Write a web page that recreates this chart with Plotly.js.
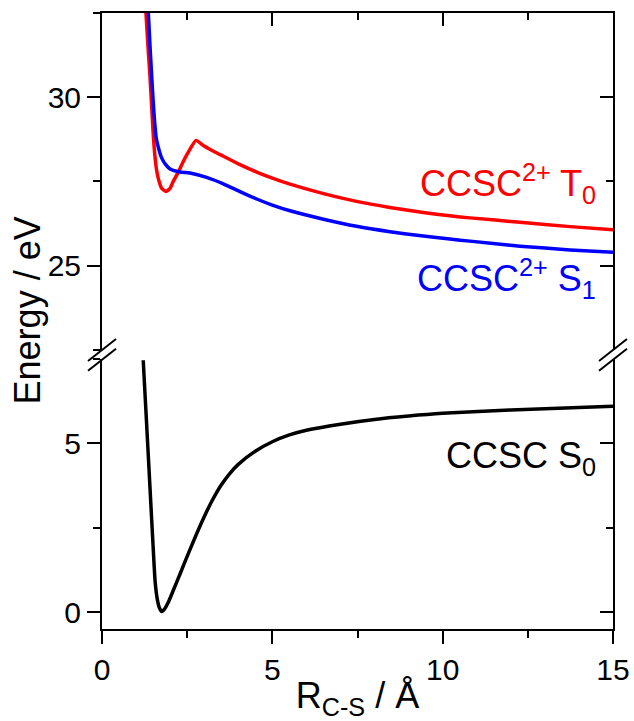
<!DOCTYPE html>
<html>
<head>
<meta charset="utf-8">
<script src="https://cdn.plot.ly/plotly-3.0.1.min.js"></script>
<style>html,body{margin:0;padding:0;background:#fff;}#chart{width:634px;height:721px;}</style>
</head>
<body>
<div id="chart"></div>
<script>
// CCSC S0 (ground state, lower panel)
const rS0 = [1.21, 1.3, 1.4, 1.5, 1.56, 1.62, 1.68, 1.75, 1.82, 1.95, 2.1, 2.3, 2.5, 2.75, 3.0, 3.25, 3.5, 3.75, 4.0, 4.5, 5.0, 5.5, 6.0, 7.0, 8.0, 9.0, 10.0, 12.0, 15.0];
const eS0 = [7.45, 5.75, 3.85, 1.95, 0.9, 0.4, 0.14, 0.02, 0.07, 0.3, 0.66, 1.15, 1.65, 2.25, 2.82, 3.33, 3.76, 4.1, 4.37, 4.76, 5.04, 5.24, 5.38, 5.56, 5.7, 5.8, 5.88, 5.98, 6.09];
// CCSC2+ T0 (upper panel)
const rT0 = [1.29, 1.35, 1.41, 1.51, 1.58, 1.65, 1.75, 1.88, 2.0, 2.09, 2.25, 2.39, 2.55, 2.76, 3.0, 3.3, 3.56, 4.05, 4.54, 5.0, 5.52, 6.5, 7.47, 8.45, 9.43, 10.21, 10.8, 12.27, 13.74, 15.0];
const eT0 = [32.5, 31.5, 30.6, 28.8, 28.0, 27.6, 27.3, 27.2, 27.3, 27.5, 27.8, 28.1, 28.4, 28.72, 28.55, 28.38, 28.25, 28.0, 27.78, 27.6, 27.42, 27.14, 26.91, 26.73, 26.58, 26.48, 26.42, 26.29, 26.16, 26.07];
// CCSC2+ S1 (upper panel)
const rS1 = [1.36, 1.41, 1.46, 1.52, 1.59, 1.67, 1.75, 1.87, 2.0, 2.29, 2.58, 3.07, 3.56, 4.05, 4.54, 5.0, 5.52, 6.5, 7.47, 8.45, 9.43, 10.21, 10.8, 12.27, 13.74, 15.0];
const eS1 = [32.5, 31.5, 30.6, 29.6, 28.8, 28.45, 28.2, 28.0, 27.87, 27.78, 27.75, 27.62, 27.43, 27.2, 26.98, 26.8, 26.63, 26.38, 26.17, 26.01, 25.88, 25.79, 25.73, 25.58, 25.47, 25.4];

const labels = {
  t0: 'CCSC<sup>2+</sup> T<sub>0</sub>',
  s1: 'CCSC<sup>2+</sup> S<sub>1</sub>',
  s0: 'CCSC S<sub>0</sub>',
  xTitle: 'R<sub>C-S</sub> / Å',
  yTitle: 'Energy / eV'
};

const FONT = 'Liberation Sans, Arial, sans-serif';
const traces = [
  {x: rS0, y: eS0, xaxis: 'x', yaxis: 'y', mode: 'lines', line: {color: '#000000', width: 3.5, shape: 'spline', smoothing: 0.6}},
  {x: rT0, y: eT0, xaxis: 'x2', yaxis: 'y2', mode: 'lines', line: {color: '#ff0000', width: 3.5, shape: 'spline', smoothing: 0.5}},
  {x: rS1, y: eS1, xaxis: 'x2', yaxis: 'y2', mode: 'lines', line: {color: '#0000ff', width: 3.5, shape: 'spline', smoothing: 0.6}},
  // empty traces so the right-hand (inside-tick) frame axes are drawn
  {x: [], y: [], xaxis: 'x', yaxis: 'y3', mode: 'lines', hoverinfo: 'skip'},
  {x: [], y: [], xaxis: 'x2', yaxis: 'y4', mode: 'lines', hoverinfo: 'skip'}
];

const botDom = [0, 0.439];
const topDom = [0.453, 1];
const common = {showgrid: false, zeroline: false, showline: true, linecolor: '#000', linewidth: 2, tickcolor: '#000', tickwidth: 2, ticklen: 13,
  tickfont: {family: FONT, size: 30, color: '#000'}};
const minorOut = {ticks: 'outside', ticklen: 7, tickwidth: 2, tickcolor: '#000', dtick: 2.5, tick0: 0, showgrid: false};
const minorIn = {ticks: 'inside', ticklen: 7, tickwidth: 2, tickcolor: '#000', dtick: 2.5, tick0: 0, showgrid: false};

const layout = {
  width: 634, height: 721,
  margin: {l: 102, r: 21, t: 13, b: 92},
  paper_bgcolor: '#fff', plot_bgcolor: '#fff',
  showlegend: false,
  xaxis: Object.assign({}, common, {range: [0, 15], anchor: 'y', ticks: 'outside', dtick: 5, tick0: 0, minor: minorOut,
    title: {text: labels.xTitle, font: {family: FONT, size: 36, color: '#000'}, standoff: 8}}),
  xaxis2: Object.assign({}, common, {range: [0, 15], anchor: 'y2', side: 'top', ticks: 'inside', dtick: 5, tick0: 0, minor: minorIn, showticklabels: false}),
  yaxis: Object.assign({}, common, {domain: botDom, range: [-0.5, 7.5], anchor: 'x', ticks: 'outside', dtick: 5, tick0: 0, minor: minorOut}),
  yaxis2: Object.assign({}, common, {domain: topDom, range: [22.5, 32.5], anchor: 'x2', ticks: 'outside', dtick: 5, tick0: 0, minor: minorOut}),
  yaxis3: Object.assign({}, common, {domain: botDom, range: [-0.5, 7.5], overlaying: 'y', side: 'right', anchor: 'x', ticks: 'inside', dtick: 5, tick0: 0, minor: minorIn, showticklabels: false}),
  yaxis4: Object.assign({}, common, {domain: topDom, range: [22.5, 32.5], overlaying: 'y2', side: 'right', anchor: 'x2', ticks: 'inside', dtick: 5, tick0: 0, minor: minorIn, showticklabels: false}),
  annotations: [
    {text: labels.t0, xref: 'x2', yref: 'y2', x: 14.55, y: 27.43, xanchor: 'right', yanchor: 'middle', showarrow: false, font: {family: FONT, size: 36, color: '#ff0000'}},
    {text: labels.s1, xref: 'x2', yref: 'y2', x: 14.55, y: 24.62, xanchor: 'right', yanchor: 'middle', showarrow: false, font: {family: FONT, size: 36, color: '#0000ff'}},
    {text: labels.s0, xref: 'x', yref: 'y', x: 14.55, y: 4.55, xanchor: 'right', yanchor: 'middle', showarrow: false, font: {family: FONT, size: 36, color: '#000000'}},
    {text: labels.yTitle, xref: 'paper', yref: 'paper', x: -0.145, y: 0.517, xanchor: 'center', yanchor: 'middle', textangle: -90, showarrow: false, font: {family: FONT, size: 36, color: '#000'}}
  ],
  shapes: []
};
// axis-break marks (decoration on both y-axis lines), paper-referenced
[[0, 0.453], [0, 0.437], [1, 0.453], [1, 0.437]].forEach(function (b) {
  layout.shapes.push({type: 'line', xref: 'paper', yref: 'paper', xsizemode: 'pixel', ysizemode: 'pixel', xanchor: b[0], yanchor: b[1],
    x0: -14, x1: 14, y0: -11, y1: 11, line: {color: '#000', width: 2}});
});

Plotly.newPlot('chart', traces, layout, {displayModeBar: false, staticPlot: true});
</script>
</body>
</html>
